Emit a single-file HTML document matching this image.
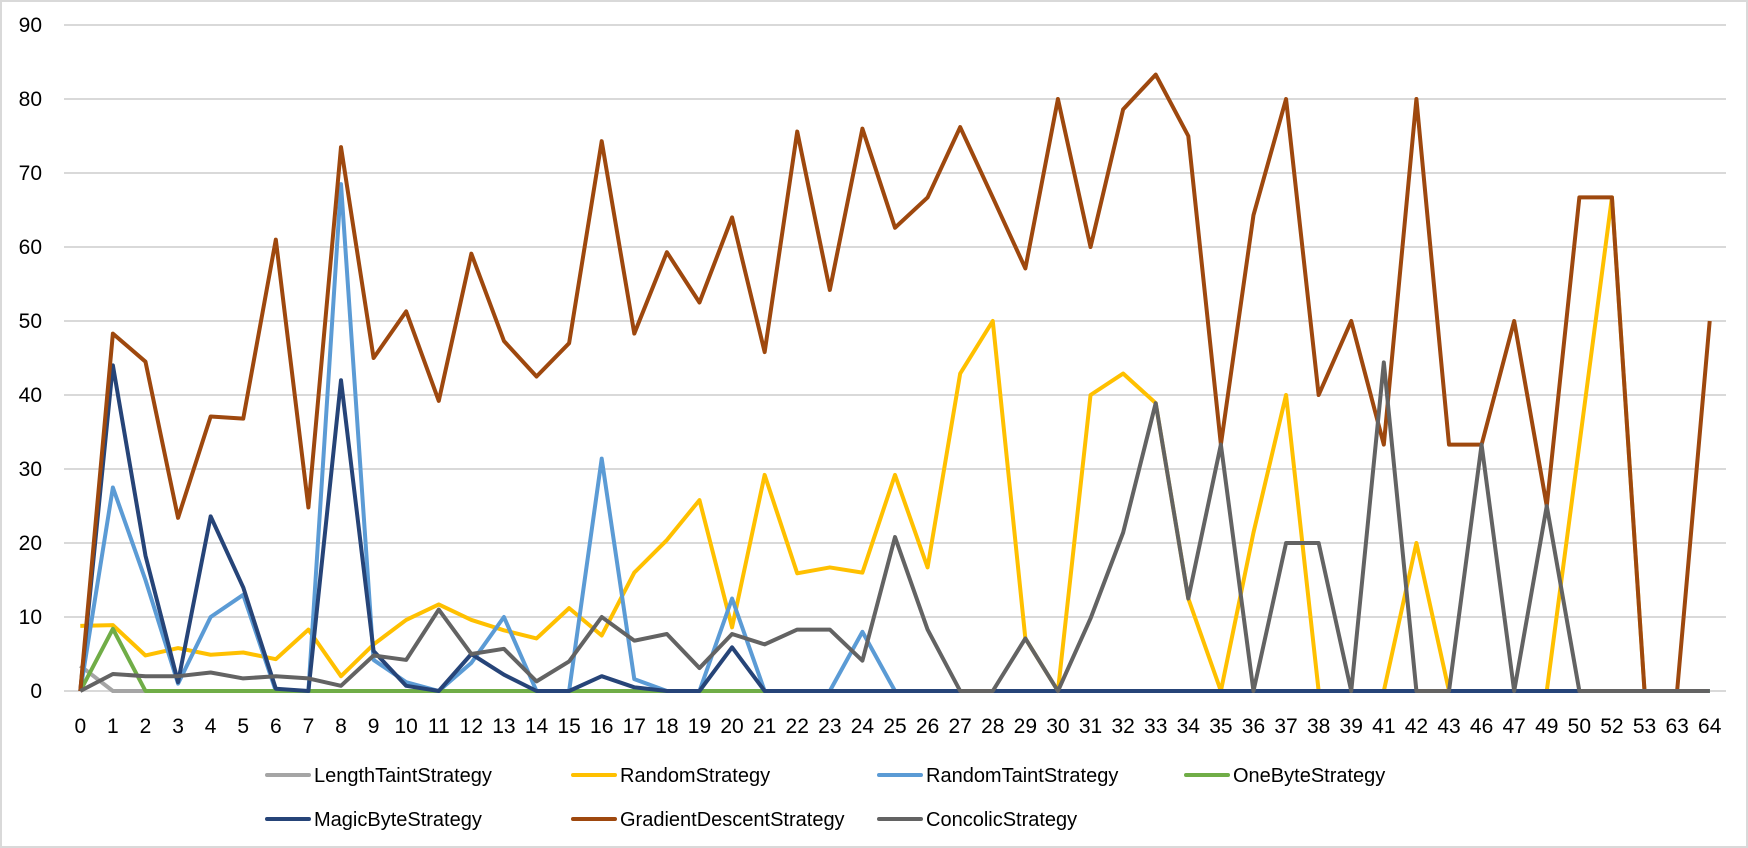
<!DOCTYPE html>
<html><head><meta charset="utf-8"><style>
html,body{margin:0;padding:0;background:#fff;}
svg{display:block;font-family:"Liberation Sans",sans-serif;}
</style></head><body>
<svg id="chart" width="1748" height="848">
<rect x="1" y="1" width="1746" height="846" fill="#fff" stroke="#d9d9d9" stroke-width="2"/>
<g id="grid"></g><g id="ylab"></g><g id="xlab"></g><g id="lines"></g><g id="legend"></g>
</svg>
<script>
const categories=["0","1","2","3","4","5","6","7","8","9","10","11","12","13","14","15","16","17","18","19","20","21","22","23","24","25","26","27","28","29","30","31","32","33","34","35","36","37","38","39","41","42","43","46","47","49","50","52","53","63","64"];
const yTicks=[0,10,20,30,40,50,60,70,80,90];
const seriesNames=["LengthTaintStrategy","RandomStrategy","RandomTaintStrategy","OneByteStrategy","MagicByteStrategy","GradientDescentStrategy","ConcolicStrategy"];
const seriesColors=["#A5A5A5","#FFC000","#5B9BD5","#70AD47","#264478","#9E480E","#636363"];
const lengthTaint=[3.4,0,0,0,0,0,0,0,0,0,0,0,0,0,0,0,0,0,0,0,0,0,0,0,0,0,0,0,0,0,0,0,0,0,0,0,0,0,0,0,0,0,0,0,0,0,0,0,0,0,0];
const random=[8.8,8.9,4.8,5.8,4.9,5.2,4.3,8.3,2,6.3,9.6,11.7,9.6,8.2,7.1,11.2,7.5,16,20.4,25.8,8.6,29.2,15.9,16.7,16,29.2,16.7,42.9,50,7.1,0,40,42.9,38.9,12.5,0,21.4,40,0,0,0,20,0,0,0,0,33.3,66.7,0,0,0];
const randomTaint=[0,27.5,15,1,10,13,0,0,68.5,4.2,1.2,0,3.8,10,0,0,31.4,1.6,0,0,12.5,0,0,0,8,0,0,0,0,0,0,0,0,0,0,0,0,0,0,0,0,0,0,0,0,0,0,0,0,0,0];
const oneByte=[0,8.4,0,0,0,0,0,0,0,0,0,0,0,0,0,0,0,0,0,0,0,0,0,0,0,0,0,0,0,0,0,0,0,0,0,0,0,0,0,0,0,0,0,0,0,0,0,0,0,0,0];
const magicByte=[0,44,18.3,1.2,23.6,14,0.3,0,42,5.4,0.7,0,5,2.2,0,0,2,0.5,0,0,5.9,0,0,0,0,0,0,0,0,0,0,0,0,0,0,0,0,0,0,0,0,0,0,0,0,0,0,0,0,0,0];
const gradient=[0,48.3,44.5,23.4,37.1,36.8,61,24.8,73.5,45,51.3,39.2,59.1,47.3,42.5,47,74.3,48.3,59.3,52.5,64,45.8,75.6,54.2,76,62.6,66.7,76.2,66.7,57.1,80,60,78.6,83.3,75,33.3,64.3,80,40,50,33.3,80,33.3,33.3,50,25,66.7,66.7,0,0,50];
const concolic=[0,2.3,2,2,2.5,1.7,2,1.7,0.7,4.8,4.2,11,5,5.7,1.3,4,10,6.8,7.7,3.1,7.7,6.3,8.3,8.3,4.1,20.8,8.3,0,0,7.1,0,9.8,21.4,38.9,12.5,33.3,0,20,20,0,44.4,0,0,33.3,0,25,0,0,0,0,0];
const allSeries=[lengthTaint,random,randomTaint,oneByte,magicByte,gradient,concolic];

const NS="http://www.w3.org/2000/svg";
const L=64,R=1726,Y0=691,Y90=25;
const step=(R-L)/categories.length;
const xs=i=>L+step*(i+0.5);
const ys=v=>Y0-(v/90)*(Y0-Y90);
function mk(t,a,p){const e=document.createElementNS(NS,t);for(const k in a)e.setAttribute(k,a[k]);p.appendChild(e);return e;}
const grid=document.getElementById('grid'),ylab=document.getElementById('ylab'),xlab=document.getElementById('xlab'),lines=document.getElementById('lines'),legend=document.getElementById('legend');
yTicks.forEach(t=>{
  const g=mk('line',{x1:L,x2:R,y1:ys(t),y2:ys(t),stroke:'#d9d9d9','stroke-width':2},grid);
  
  
  const tx=mk('text',{x:42,y:ys(t)+7,'text-anchor':'end','font-size':21,fill:'#000'},ylab);
  tx.textContent=t;
  
  
});
categories.forEach((c,i)=>{
  const tx=mk('text',{x:xs(i),y:733,'text-anchor':'middle','font-size':21,fill:'#000'},xlab);
  tx.textContent=c;
  
  
});
allSeries.forEach((s,k)=>{
  const p=mk('polyline',{points:s.map((v,i)=>xs(i)+','+ys(v)).join(' '),fill:'none',stroke:seriesColors[k],'stroke-width':4,'stroke-linejoin':'round'},lines);
  
  
});
const legPos=[[267,775],[573,775],[879,775],[1186,775],[267,819],[573,819],[879,819]];
seriesNames.forEach((n,k)=>{
  const g=mk('g',{},legend);
  
  
  const [x,y]=legPos[k];
  mk('line',{x1:x,x2:x+42,y1:y,y2:y,stroke:seriesColors[k],'stroke-width':4,'stroke-linecap':'round'},g);
  const t=mk('text',{x:x+47,y:y+7,'font-size':20,fill:'#000'},g);
  t.textContent=n;
});
</script>
</body></html>
